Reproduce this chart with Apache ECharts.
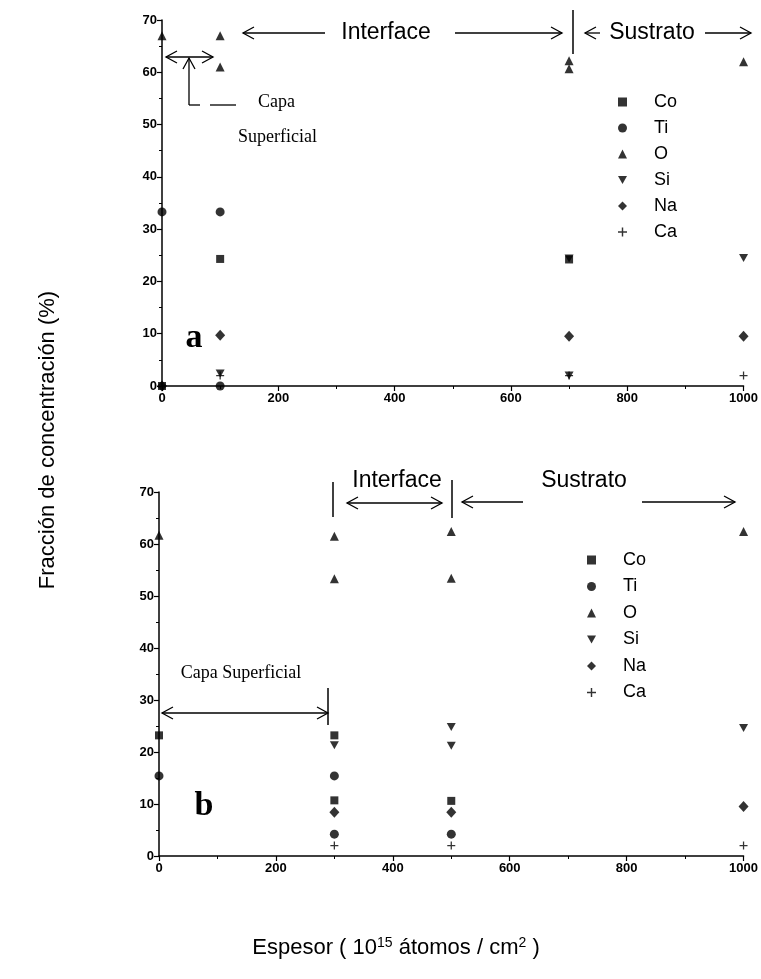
<!DOCTYPE html>
<html>
<head>
<meta charset="utf-8">
<script src="https://cdn.jsdelivr.net/npm/echarts@6/dist/echarts.min.js"></script>
<style>
html,body{margin:0;padding:0;background:#fff;}
#chart{width:761px;height:979px;}
</style>
</head>
<body>
<div id="chart"></div>
<script>
// Element names shown in both legends
const elements = ['Co', 'Ti', 'O', 'Si', 'Na', 'Ca'];

// Axis ticks
const xTicks = [0, 200, 400, 600, 800, 1000];
const yTicks = [0, 10, 20, 30, 40, 50, 60, 70];

// Panel a: concentration (%) vs thickness
const coA = [[0, 0], [100, 24.3], [700, 24.2]];
const tiA = [[0, 33.3], [100, 33.3], [100, 0]];
const oA  = [[0, 67], [100, 67], [100, 61], [700, 60.7], [700, 62.2], [1000, 62]];
const siA = [[100, 2.4], [700, 2], [700, 24.4], [1000, 24.5]];
const naA = [[0, 0], [100, 9.7], [700, 9.5], [1000, 9.5]];
const caA = [[100, 2], [700, 2], [1000, 2]];

// Panel b
const coB = [[0, 23.2], [300, 23.2], [300, 10.7], [500, 10.6]];
const tiB = [[0, 15.4], [300, 15.4], [300, 4.2], [500, 4.2]];
const oB  = [[0, 61.7], [300, 61.5], [300, 53.3], [500, 53.4], [500, 62.4], [1000, 62.4]];
const siB = [[300, 21.3], [500, 21.2], [500, 24.8], [1000, 24.6]];
const naB = [[300, 8.4], [500, 8.4], [1000, 9.5]];
const caB = [[300, 2], [500, 2], [1000, 2]];

const panelA = [coA, tiA, oA, siA, naA, caA];
const panelB = [coB, tiB, oB, siB, naB, caB];

const symbols = {
  Co: {symbol: 'rect', size: 8},
  Ti: {symbol: 'circle', size: 9},
  O:  {symbol: 'triangle', size: 9},
  Si: {symbol: 'path://M0,0 L10,0 L5,9 Z', size: [9, 8]},
  Na: {symbol: 'diamond', size: [10, 11]},
  Ca: {symbol: 'path://M4.2,0H5.8V4.2H10V5.8H5.8V10H4.2V5.8H0V4.2H4.2Z', size: 8}
};

const tickFont = {fontFamily: 'Liberation Sans Narrow, Liberation Sans, Arial', fontSize: 13, color: '#000', fontWeight: 'bold'};

function xAxis(gridIndex) {
  return {
    type: 'value', gridIndex, min: 0, max: 1000, interval: 200,
    axisLine: {show: true, onZero: false, lineStyle: {color: '#000', width: 1.5}},
    axisTick: {show: true, inside: false, length: 5, lineStyle: {color: '#000', width: 1.2}},
    minorTick: {show: true, splitNumber: 2, length: 3, lineStyle: {color: '#000'}},
    splitLine: {show: false},
    axisLabel: Object.assign({margin: 6, formatter: v => xTicks.includes(v) ? String(v) : ''}, tickFont)
  };
}
function yAxis(gridIndex) {
  return {
    type: 'value', gridIndex, min: 0, max: 70, interval: 10,
    axisLine: {show: true, onZero: false, lineStyle: {color: '#000', width: 1.5}},
    axisTick: {show: true, inside: false, length: 5, lineStyle: {color: '#000', width: 1.2}},
    minorTick: {show: true, splitNumber: 2, length: 3, lineStyle: {color: '#000'}},
    splitLine: {show: false},
    axisLabel: Object.assign({margin: 5, formatter: v => yTicks.includes(v) ? String(v) : ''}, tickFont)
  };
}

function buildSeries(panel, idx) {
  return elements.map((name, i) => ({
    type: 'scatter', name, xAxisIndex: idx, yAxisIndex: idx,
    symbol: symbols[name].symbol, symbolSize: symbols[name].size,
    itemStyle: {color: '#000'},
    data: panel[i]
  }));
}

function legend(left, top, gap) {
  return {
    orient: 'vertical', left, top, itemWidth: 9, itemHeight: 9, itemGap: gap,
    selectedMode: false,
    data: elements,
    formatter: n => '{g|}' + n,
    textStyle: {fontFamily: 'Liberation Sans, Arial', fontSize: 18, color: '#000', lineHeight: 18,
      rich: {g: {width: 22}}}
  };
}

const chart = echarts.init(document.getElementById('chart'), null, {renderer: 'canvas'});

const option = {
  animation: false,
  backgroundColor: '#fff',
  grid: [
    {left: 162, right: 12, top: 20, height: 366},
    {left: 159, right: 16, top: 492, height: 364}
  ],
  xAxis: [xAxis(0), xAxis(1)],
  yAxis: [yAxis(0), yAxis(1)],
  legend: [legend(613, 88, 8), legend(582, 546, 8.5)],
  series: buildSeries(panelA, 0).concat(buildSeries(panelB, 1))
};
chart.setOption(option);

// ---- annotations ----
const ink = {stroke: '#000', lineWidth: 1.3, fill: null};
function line(x1, y1, x2, y2, w) {
  return {type: 'line', shape: {x1, y1, x2, y2}, style: Object.assign({}, ink, {lineWidth: w || 1.3}), silent: true};
}
// open chevron arrow head with its tip at (x, y)
function head(x, y, dir) {
  const L = 11, W = 6;
  let pts;
  if (dir === 'left')  pts = [[x + L, y - W], [x, y], [x + L, y + W]];
  if (dir === 'right') pts = [[x - L, y - W], [x, y], [x - L, y + W]];
  if (dir === 'up')    pts = [[x - W, y + L], [x, y], [x + W, y + L]];
  return {type: 'polyline', shape: {points: pts}, style: Object.assign({}, ink), silent: true};
}
function text(str, x, y, font, align) {
  return {type: 'text', x, y, silent: true,
    style: {text: str, font, fill: '#000', align: align || 'center', verticalAlign: 'middle'}};
}
const sans = '23px "Liberation Sans", Arial';
const serif = '18px "Liberation Serif", "Times New Roman"';

const g = [];
// panel a: Interface
g.push(line(243, 33, 325, 33), head(243, 33, 'left'));
g.push(text('Interface', 386, 33, sans));
g.push(line(455, 33, 562, 33), head(562, 33, 'right'));
g.push(line(573, 10, 573, 54, 1.5));
// panel a: Sustrato
g.push(line(585, 33, 600, 33), head(585, 33, 'left'));
g.push(text('Sustrato', 652, 33, sans));
g.push(line(705, 33, 751, 33), head(751, 33, 'right'));
// panel a: Capa Superficial
g.push(line(166, 57, 213, 57), head(166, 57, 'left'), head(213, 57, 'right'));
g.push(line(189, 105, 189, 58), head(189, 58, 'up'));
g.push(line(189, 105, 200, 105), line(210, 105, 236, 105));
g.push(text('Capa', 258, 102, serif, 'left'));
g.push(text('Superficial', 238, 137, serif, 'left'));
g.push(text('a', 194, 338, 'bold 34px "Liberation Serif", "Times New Roman"'));

// panel b: Interface
g.push(line(333, 482, 333, 517, 1.5));
g.push(text('Interface', 397, 481, sans));
g.push(line(347, 503, 442, 503), head(347, 503, 'left'), head(442, 503, 'right'));
g.push(line(452, 480, 452, 518, 1.5));
// panel b: Sustrato
g.push(line(462, 502, 523, 502), head(462, 502, 'left'));
g.push(text('Sustrato', 584, 481, sans));
g.push(line(642, 502, 735, 502), head(735, 502, 'right'));
// panel b: Capa Superficial
g.push(text('Capa Superficial', 241, 673, serif));
g.push(line(162, 713, 328, 713), head(162, 713, 'left'), head(328, 713, 'right'));
g.push(line(328, 688, 328, 725, 1.5));
g.push(text('b', 204, 806, 'bold 34px "Liberation Serif", "Times New Roman"'));

// axis titles
g.push({type: 'text', x: 48, y: 440, rotation: Math.PI / 2, silent: true,
  style: {text: 'Fracción de concentración (%)', font: '22px "Liberation Sans", Arial', fill: '#000',
    align: 'center', verticalAlign: 'middle'}});
g.push({type: 'text', x: 396, y: 948, silent: true,
  style: {text: 'Espesor ( 10{s|15} átomos / cm{s|2} )', font: '22px "Liberation Sans", Arial', fill: '#000',
    align: 'center', verticalAlign: 'middle',
    rich: {s: {fontSize: 14, fontFamily: 'Liberation Sans, Arial', verticalAlign: 'top', padding: [0, 0, 10, 0]}}}});

chart.setOption({graphic: g});
</script>
</body>
</html>
